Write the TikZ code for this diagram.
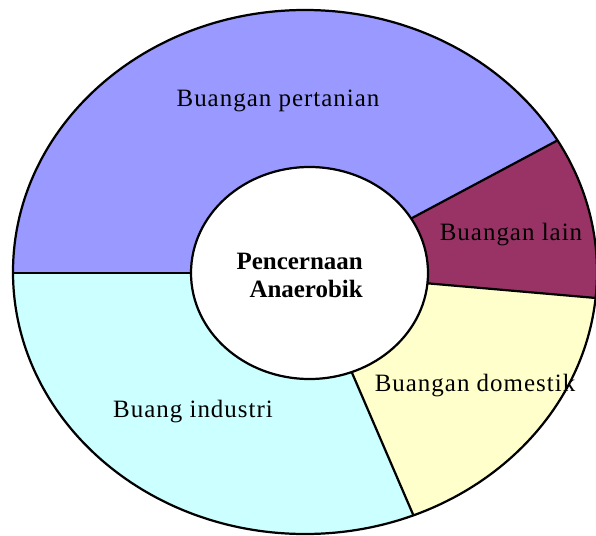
\documentclass[tikz,border=0pt]{standalone}
\usepackage{fontspec}
\setmainfont{Liberation Serif}
\definecolor{colPert}{HTML}{9999FF}
\definecolor{colLain}{HTML}{993366}
\definecolor{colDom}{HTML}{FFFFCC}
\definecolor{colInd}{HTML}{CCFFFF}
\tikzset{
  seglabel/.style={inner sep=0pt, anchor=base,
    font=\fontsize{21.3}{25}\selectfont\addfontfeatures{LetterSpace=4}},
  hublabel/.style={inner sep=0pt, anchor=base east,
    font=\fontsize{21.3}{25}\selectfont\bfseries},
  rim/.style={draw=black, line width=1.9pt}
}
\begin{document}
\begin{tikzpicture}[x=0.03cm, y=-0.03cm]
\useasboundingbox (0,0) rectangle (596,535);
% hub centre and the far ends of the four sector borders
\coordinate (O)  at (309,273);
\coordinate (rA) at (-300,273);
\coordinate (rB) at (1068,-132);
\coordinate (rC) at (1170,348);
\coordinate (rD) at (627,1011);
\begin{scope}
  \clip (305,272) ellipse [x radius=292, y radius=262];
  \fill[colPert] (O) -- (rA) -- (-300,-300) -- (1068,-300) -- (rB) -- cycle;
  \fill[colLain] (O) -- (rB) -- (rC) -- cycle;
  \fill[colDom]  (O) -- (rC) -- (1170,1011) -- (rD) -- cycle;
  \fill[colInd]  (O) -- (rD) -- (-300,1011) -- (rA) -- cycle;
  \draw[rim] (O) -- (rA);
  \draw[rim] (O) -- (rB);
  \draw[rim] (O) -- (rC);
  \draw[rim] (O) -- (rD);
\end{scope}
% outer rim and white hub
\draw[rim] (305,272) ellipse [x radius=292, y radius=262];
\filldraw[rim, fill=white] (309.5,273) ellipse [x radius=118.5, y radius=106];
% sector labels
\node[seglabel] (pert) at (278,106) {Buangan pertanian};
\node[seglabel] (lain) at (511,240) {Buangan lain};
\node[seglabel] (dom)  at (475,391) {Buangan domestik};
\node[seglabel] (ind)  at (193,417) {Buang industri};
% hub text
\node[hublabel] (hub1) at (363,269) {Pencernaan};
\node[hublabel] (hub2) at (363,297) {Anaerobik};
\end{tikzpicture}
\end{document}
